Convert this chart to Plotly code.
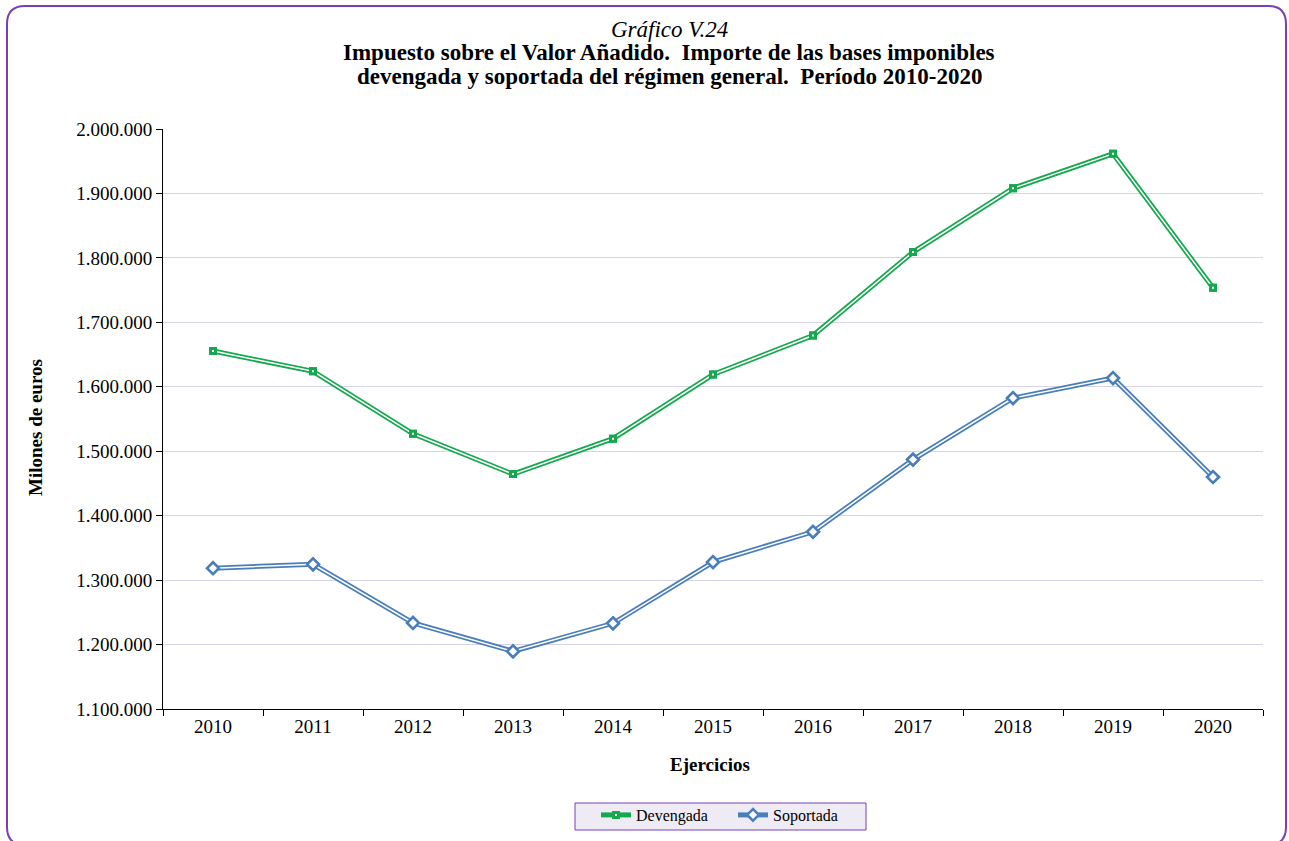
import plotly.graph_objects as go

years = ["2010", "2011", "2012", "2013", "2014", "2015", "2016", "2017", "2018", "2019", "2020"]
devengada = [1655500, 1624000, 1527000, 1464500, 1519500, 1619000, 1679500, 1809000, 1908000, 1961500, 1753500]
soportada = [1318500, 1324500, 1233500, 1189500, 1233000, 1328000, 1375000, 1487000, 1582500, 1613500, 1460000]
y_ticks = [1100000, 1200000, 1300000, 1400000, 1500000, 1600000, 1700000, 1800000, 1900000, 2000000]

GREEN = "#16a84f"
BLUE = "#4a7ebb"
PURPLE = "#7a3fb8"
FONT = "Liberation Serif"

W, H = 1289, 841
L, R, T, B = 163, 1263, 129, 709

fig = go.Figure()


def add_double_line(name, values, color, marker):
    # outer coloured stroke (also drives the legend entry)
    fig.add_trace(go.Scatter(
        x=years, y=values, name=name, mode="lines+markers",
        line=dict(color=color, width=5), marker=marker,
    ))
    # inner white stroke giving the compound-line look
    fig.add_trace(go.Scatter(
        x=years, y=values, showlegend=False, hoverinfo="skip", mode="lines+markers",
        line=dict(color="white", width=1.5), marker=marker,
    ))


add_double_line("Devengada", devengada, GREEN,
                dict(symbol="square", size=5, color="white", line=dict(color=GREEN, width=3)))
add_double_line("Soportada", soportada, BLUE,
                dict(symbol="diamond", size=9, color="white", line=dict(color=BLUE, width=2.5)))


def px(x):
    return (x - L) / (R - L)


def py(y):
    return (B - y) / (B - T)


# rounded purple frame around the whole figure
x0, x1, y0, y1, r = 7, 1286, 6, 845, 18
path = (
    f"M {px(x0 + r)},{py(y0)} L {px(x1 - r)},{py(y0)} "
    f"Q {px(x1)},{py(y0)} {px(x1)},{py(y0 + r)} "
    f"L {px(x1)},{py(y1 - r)} Q {px(x1)},{py(y1)} {px(x1 - r)},{py(y1)} "
    f"L {px(x0 + r)},{py(y1)} Q {px(x0)},{py(y1)} {px(x0)},{py(y1 - r)} "
    f"L {px(x0)},{py(y0 + r)} Q {px(x0)},{py(y0)} {px(x0 + r)},{py(y0)} Z"
)
fig.add_shape(type="path", path=path, xref="paper", yref="paper",
              line=dict(color=PURPLE, width=2), layer="above")

# legend box drawn behind the legend entries
fig.add_shape(type="rect", xref="paper", yref="paper",
              x0=px(575), x1=px(866), y0=py(830), y1=py(803),
              fillcolor="#efebf5", line=dict(color=PURPLE, width=1), layer="below")

# title lines and axis titles
title_lines = [
    ("<i>Gráfico V.24</i>", 29),
    ("<b>Impuesto sobre el Valor Añadido.  Importe de las bases imponibles</b>", 52),
    ("<b>devengada y soportada del régimen general.  Período 2010-2020</b>", 76),
]
for text, yc in title_lines:
    fig.add_annotation(text=text, x=px(669), y=py(yc), xref="paper", yref="paper",
                       xanchor="center", yanchor="middle", showarrow=False,
                       font=dict(family=FONT, size=23, color="black"))

fig.add_annotation(text="<b>Ejercicios</b>", x=px(710), y=py(764), xref="paper", yref="paper",
                   xanchor="center", yanchor="middle", showarrow=False,
                   font=dict(family=FONT, size=19, color="black"))
fig.add_annotation(text="<b>Milones de euros</b>", x=px(35), y=py(428), xref="paper", yref="paper",
                   xanchor="center", yanchor="middle", showarrow=False, textangle=-90,
                   font=dict(family=FONT, size=19, color="black"))

fig.update_layout(
    width=W, height=H,
    margin=dict(l=L, r=W - R, t=T, b=H - B),
    paper_bgcolor="white", plot_bgcolor="white",
    separators=",.",
    font=dict(family=FONT, size=19, color="black"),
    showlegend=True,
    legend=dict(
        orientation="h", x=596 / W, xanchor="left", xref="container",
        y=1 - 798 / H, yanchor="top", yref="container",
        bgcolor="rgba(0,0,0,0)", borderwidth=0,
        font=dict(family=FONT, size=16, color="black"),
        entrywidth=92, entrywidthmode="pixels",
        tracegroupgap=0,
    ),
    xaxis=dict(
        type="category", range=[-0.5, 10.5], tickson="boundaries",
        ticks="outside", ticklen=6, tickcolor="black",
        showline=True, linecolor="black", linewidth=1,
        showgrid=False, tickfont=dict(family=FONT, size=19),
    ),
    yaxis=dict(
        range=[1100000, 2000000], tickvals=y_ticks, tickformat=",d",
        ticks="outside", ticklen=6, tickcolor="black",
        showline=True, linecolor="black", linewidth=1,
        showgrid=True, gridcolor="#d9d3e8", gridwidth=1,
        zeroline=False, tickfont=dict(family=FONT, size=19),
    ),
)

fig.write_html("out.html")
